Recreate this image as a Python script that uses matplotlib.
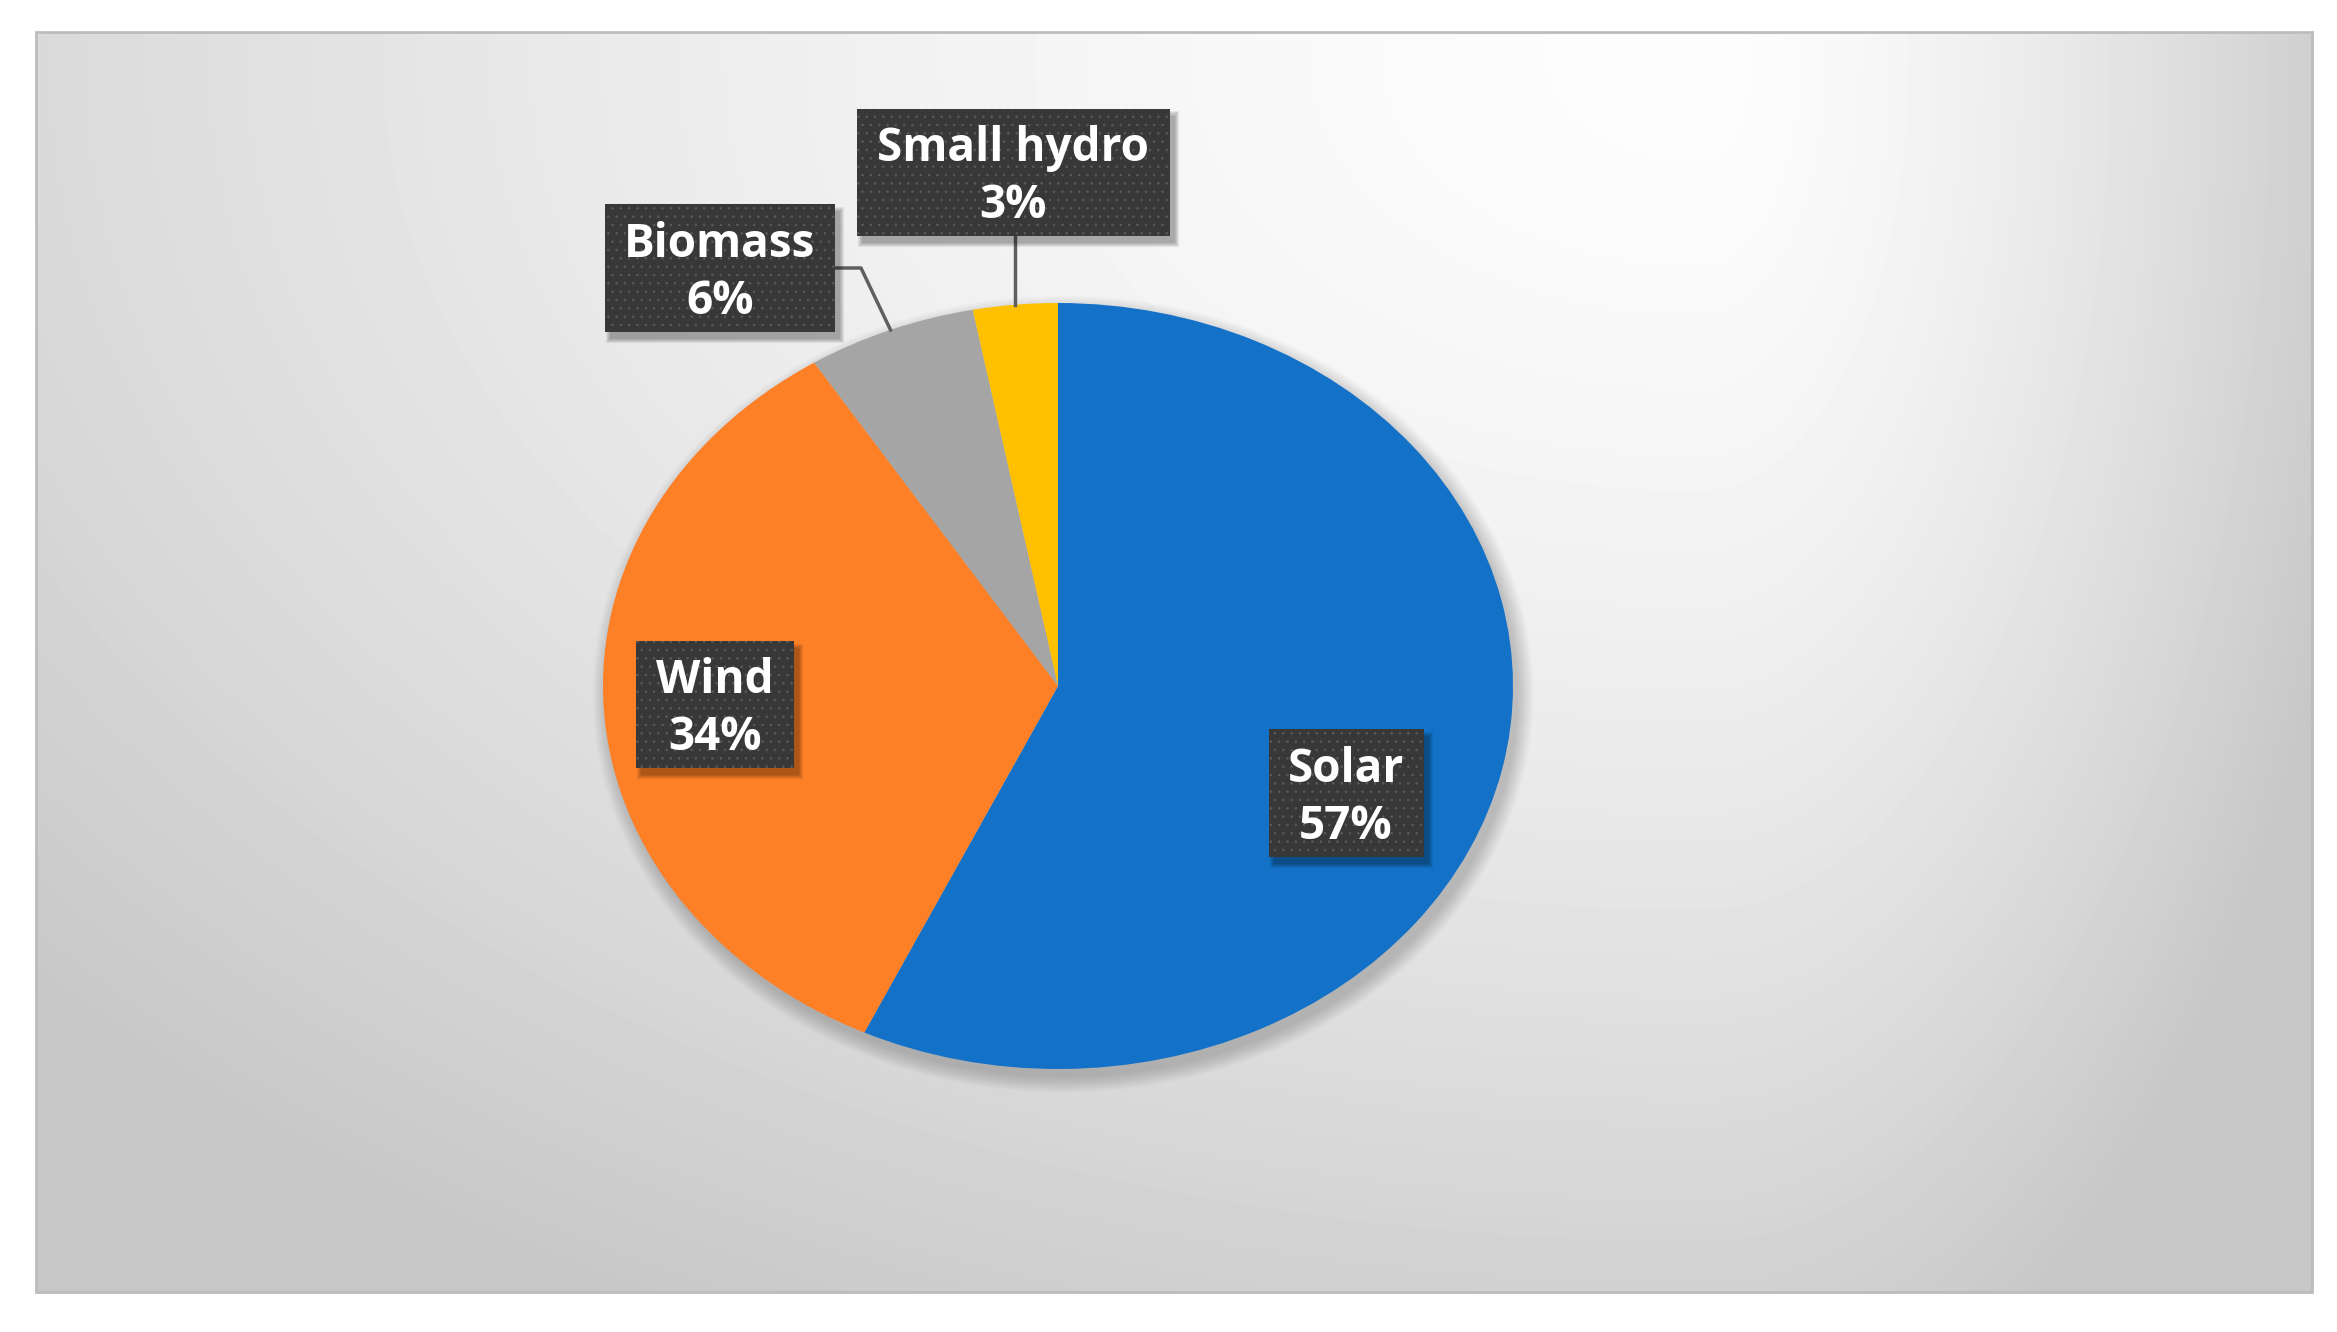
import numpy as np
import matplotlib
matplotlib.use("Agg")
import matplotlib.pyplot as plt
import matplotlib.patches as patches

# data
sources = ["Solar", "Wind", "Biomass", "Small hydro"]
shares = [57, 34, 6, 3]
colors = ["#1471c8", "#fd7f26", "#a5a5a5", "#ffc000"]

W, H = 2337, 1332
plt.rcParams['font.family'] = ['Open Sans', 'DejaVu Sans']
plt.rcParams['hatch.linewidth'] = 0.6

fig = plt.figure(figsize=(W / 100, H / 100), dpi=100)
fig.patch.set_facecolor("white")

# background panel with soft gradient (lightest near the top, right of centre)
bg = fig.add_axes([0, 0, 1, 1])
bg.set_xlim(0, W)
bg.set_ylim(H, 0)
bg.axis('off')
x0, y0, x1, y1 = 36, 32, 2312, 1292
gx, gy = 1700, 60
xs = np.arange(x0, x1, 4)
ys = np.arange(y0, y1, 4)
X, Y = np.meshgrid(xs, ys)
fx = np.where(X < gx, (gx - X) / 2100, (X - gx) / 650)
fy = np.clip(Y - gy, 0, None) / 1350
t = np.sqrt(fx ** 2 + fy ** 2)
img = 253 - np.minimum(54, 50 * t ** 1.5)
bg.imshow(img, extent=(x0, x1, y1, y0), cmap='gray', vmin=0, vmax=255,
          interpolation='bilinear', aspect='auto')
bg.add_patch(patches.Rectangle((x0, y0), x1 - x0, y1 - y0, fill=False,
                               ec='#bcbcbc', lw=2))

# pie axes, stretched into an ellipse
cx, cy, rx, ry = 1058, 686, 455, 383
ax = fig.add_axes([(cx - rx) / W, 1 - (cy + ry) / H, 2 * rx / W, 2 * ry / H])


def P(px, py):
    return (px - cx) / rx, (cy - py) / ry


# soft drop shadow under the pie
for k in range(12):
    g = k * 1.4
    ax.add_patch(patches.Ellipse((5 / rx, -8 / ry), 2 + 2 * g / rx, 2 + 2 * g / ry,
                                 fc='black', ec='none', alpha=0.016, zorder=0,
                                 clip_on=False))

wedges, _ = ax.pie(shares, colors=colors, startangle=90, counterclock=False,
                   wedgeprops=dict(linewidth=0))
ax.set_aspect('auto')
ax.set_xlim(-1, 1)
ax.set_ylim(-1, 1)
ax.axis('off')

# label boxes (pixel layout: center x, center y, width, height)
boxes = {
    "Solar": (1346, 793, 155, 128),
    "Wind": (715, 704, 158, 127),
    "Biomass": (720, 268, 230, 128),
    "Small hydro": (1013, 172, 313, 127),
}


def edge_point(w):
    a = np.deg2rad((w.theta1 + w.theta2) / 2)
    return np.cos(a), np.sin(a)


# leader lines
hx, hy = edge_point(wedges[3])
bx_, by_, bw_, bh_ = boxes["Small hydro"]
ax.plot([hx, hx], [P(0, by_ + bh_ / 2)[1], hy], color='#5f5f5f', lw=2.5,
        clip_on=False, zorder=3)
mx, my = edge_point(wedges[2])
bx_, by_, bw_, bh_ = boxes["Biomass"]
ax.plot([P(bx_ + bw_ / 2, 0)[0], P(bx_ + bw_ / 2 + 26, 0)[0], mx],
        [P(0, by_)[1], P(0, by_)[1], my], color='#5f5f5f', lw=2.5,
        clip_on=False, zorder=3)

for name, val in zip(sources, shares):
    bx, by, bw, bh = boxes[name]
    # box shadow
    for k in range(5):
        sx, sy = P(bx - bw / 2 + 5 - k, by + bh / 2 + 7 + k)
        ax.add_patch(patches.Rectangle((sx, sy), (bw + 2 * k) / rx, (bh + 2 * k) / ry,
                                       fc='black', ec='none', alpha=0.07,
                                       clip_on=False, zorder=4))
    lx, ly = P(bx - bw / 2, by + bh / 2)
    ax.add_patch(patches.Rectangle((lx, ly), bw / rx, bh / ry, fc='#383838',
                                   ec='none', clip_on=False, zorder=5))
    ax.add_patch(patches.Rectangle((lx, ly), bw / rx, bh / ry, fill=False,
                                   hatch='..', ec='#5a5a5a', lw=0,
                                   clip_on=False, zorder=6))
    tx, ty = P(bx, by + 5)
    ax.text(tx, ty, f"{name}\n{val}%", ha='center', va='center',
            ma='center', color='white', fontsize=33, fontweight='bold',
            linespacing=1.3, zorder=7, clip_on=False)

fig.savefig("out.png", dpi=100)
